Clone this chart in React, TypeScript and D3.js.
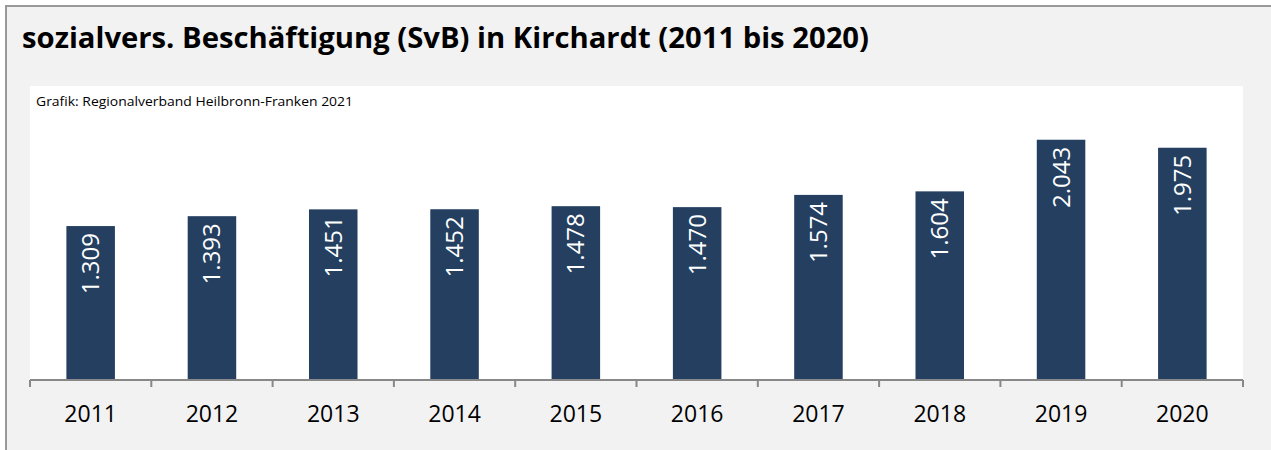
import React from "react";
import * as d3 from "d3";

const years = ["2011", "2012", "2013", "2014", "2015", "2016", "2017", "2018", "2019", "2020"];
const values = [1309, 1393, 1451, 1452, 1478, 1470, 1574, 1604, 2043, 1975];
const labels = ["1.309", "1.393", "1.451", "1.452", "1.478", "1.470", "1.574", "1.604", "2.043", "1.975"];
const title = "sozialvers. Beschäftigung (SvB) in Kirchardt (2011 bis 2020)";
const source = "Grafik: Regionalverband Heilbronn-Franken 2021";

const W = 1271;
const H = 450;
const plot = { left: 30, right: 1243, top: 86, bottom: 380 };
const font = "'Open Sans', 'Noto Sans', sans-serif";

export default function App() {
  const x = d3.scaleBand<string>().domain(years).range([plot.left, plot.right]).paddingInner(0.6).paddingOuter(0.3);
  const band = d3.scaleBand<string>().domain(years).range([plot.left, plot.right]);
  const y = d3.scaleLinear().domain([0, 2500]).range([plot.bottom, plot.top]);
  const tickXs = [...years.map((yr) => band(yr)!), plot.right];

  return (
    <svg width={W} height={H} style={{ position: "absolute", left: 0, top: 0, display: "block" }}>
      <rect x={0} y={0} width={W} height={H} fill="#ffffff" />
      <rect x={6} y={6} width={W + 10} height={H + 10} fill="#f2f2f2" stroke="#999999" strokeWidth={2} />
      <text x={22} y={48} fontFamily={font} fontWeight={700} fontSize={29} fill="#000" textLength={847} lengthAdjust="spacingAndGlyphs">
        {title}
      </text>
      <rect x={plot.left} y={plot.top} width={plot.right - plot.left} height={plot.bottom - plot.top} fill="#ffffff" />
      <text x={36} y={106} fontFamily={font} fontSize={12.5} fill="#000" textLength={317} lengthAdjust="spacingAndGlyphs">
        {source}
      </text>
      {years.map((yr, i) => (
        <rect key={yr} x={x(yr)!} y={y(values[i])} width={x.bandwidth()} height={plot.bottom - y(values[i])} fill="#243f60" />
      ))}
      {years.map((yr, i) => {
        const cx = x(yr)! + x.bandwidth() / 2;
        const ty = y(values[i]) + 7;
        return (
          <text
            key={"l" + yr}
            transform={`translate(${cx + 8.5},${ty}) rotate(-90)`}
            textAnchor="end"
            fontFamily={font}
            fontSize={24}
            fill="#ffffff"
          >
            {labels[i]}
          </text>
        );
      })}
      <line x1={plot.left} x2={plot.right} y1={plot.bottom} y2={plot.bottom} stroke="#888888" strokeWidth={2} />
      {tickXs.map((tx, i) => (
        <line key={"t" + i} x1={tx} x2={tx} y1={plot.bottom} y2={plot.bottom + 7} stroke="#888888" strokeWidth={2} />
      ))}
      {years.map((yr) => (
        <text key={"y" + yr} x={band(yr)! + band.bandwidth() / 2} y={422} textAnchor="middle" fontFamily={font} fontSize={23} fill="#000">
          {yr}
        </text>
      ))}
    </svg>
  );
}
